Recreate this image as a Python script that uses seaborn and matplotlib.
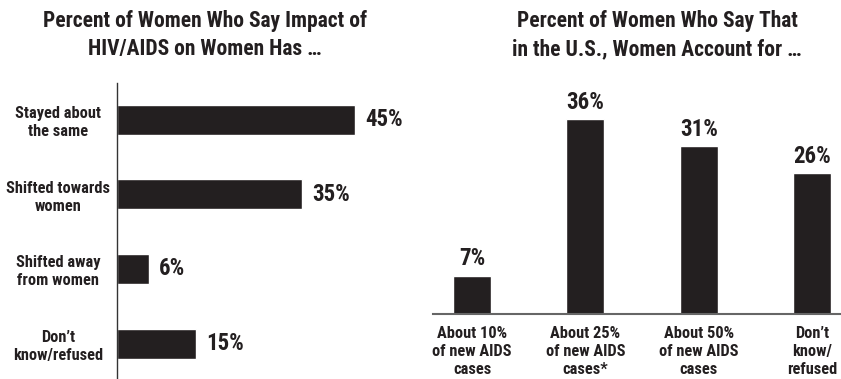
import matplotlib
matplotlib.use("Agg")
import matplotlib.pyplot as plt
import seaborn as sns
import pandas as pd

sns.set_theme(style="white")
plt.rcParams["font.family"] = ["Roboto Condensed", "DejaVu Sans"]
plt.rcParams["font.weight"] = "bold"

INK = "#231f20"

# Left panel: perceived shift in the impact of HIV/AIDS on women
impact_labels = ["Stayed about\nthe same", "Shifted towards\nwomen",
                 "Shifted away\nfrom women", "Don\u2019t\nknow/refused"]
impact_values = [45, 35, 6, 15]

# Right panel: share of new U.S. AIDS cases attributed to women
share_labels = ["About 10%\nof new AIDS\ncases", "About 25%\nof new AIDS\ncases*",
                "About 50%\nof new AIDS\ncases", "Don\u2019t\nknow/\nrefused"]
share_values = [7, 36, 31, 26]

left_title = "Percent of Women Who Say Impact of\nHIV/AIDS on Women Has \u2026"
right_title = "Percent of Women Who Say That\nin the U.S., Women Account for \u2026"

W, H = 841, 379
fig = plt.figure(figsize=(W / 100, H / 100), dpi=100)

# ---- left: horizontal bars ----
axl = fig.add_axes([117 / W, 1 / H, 264.5 / W, 295 / H])
df_l = pd.DataFrame({"label": impact_labels, "value": impact_values})
sns.barplot(data=df_l, x="value", y="label", orient="h", color=INK,
            saturation=1, width=0.4, ax=axl)
axl.set_xlim(0, 50)
axl.set_ylim(3.46, -0.49)
axl.set_xlabel("")
axl.set_ylabel("")
axl.set_xticks([])
for s in ["top", "right", "bottom"]:
    axl.spines[s].set_visible(False)
axl.spines["left"].set_color("#333333")
axl.spines["left"].set_linewidth(1.0)
axl.tick_params(axis="y", length=0, pad=42.5)
for t in axl.get_yticklabels():
    t.set_ha("center")
    t.set_multialignment("center")
    t.set_fontsize(11.8)
    t.set_fontweight("bold")
    t.set_color(INK)
    t.set_linespacing(1.25)
for i, v in enumerate(impact_values):
    axl.text(v + 1.9, i, f"{v}%", ha="left", va="center", fontsize=16.5,
             fontweight="bold", color=INK)

# ---- right: vertical bars ----
axr = fig.add_axes([432.7 / W, 65.5 / H, 408 / W, 216 / H])
df_r = pd.DataFrame({"label": share_labels, "value": share_values})
sns.barplot(data=df_r, x="label", y="value", color=INK, saturation=1,
            width=0.335, ax=axr)
axr.set_ylim(0, 40)
axr.set_xlim(-0.347, 3.253)
axr.set_xlabel("")
axr.set_ylabel("")
axr.set_yticks([])
for s in ["top", "right", "left"]:
    axr.spines[s].set_visible(False)
axr.spines["bottom"].set_color("#666666")
axr.spines["bottom"].set_linewidth(1.5)
axr.tick_params(axis="x", length=0, pad=9)
for t in axr.get_xticklabels():
    t.set_ha("center")
    t.set_multialignment("center")
    t.set_fontsize(11.8)
    t.set_fontweight("bold")
    t.set_color(INK)
    t.set_linespacing(1.25)
for i, v in enumerate(share_values):
    axr.text(i, v + 1.9, f"{v}%", ha="center", va="baseline", fontsize=16.5,
             fontweight="bold", color=INK, clip_on=False)

# ---- titles ----
fig.text(205 / W, 1 - 35 / H, left_title, ha="center", va="center",
         fontsize=15.5, fontweight="bold", color=INK, linespacing=1.4)
fig.text(657 / W, 1 - 35 / H, right_title, ha="center", va="center",
         fontsize=15.5, fontweight="bold", color=INK, linespacing=1.4)

fig.savefig("out.png", dpi=100)
